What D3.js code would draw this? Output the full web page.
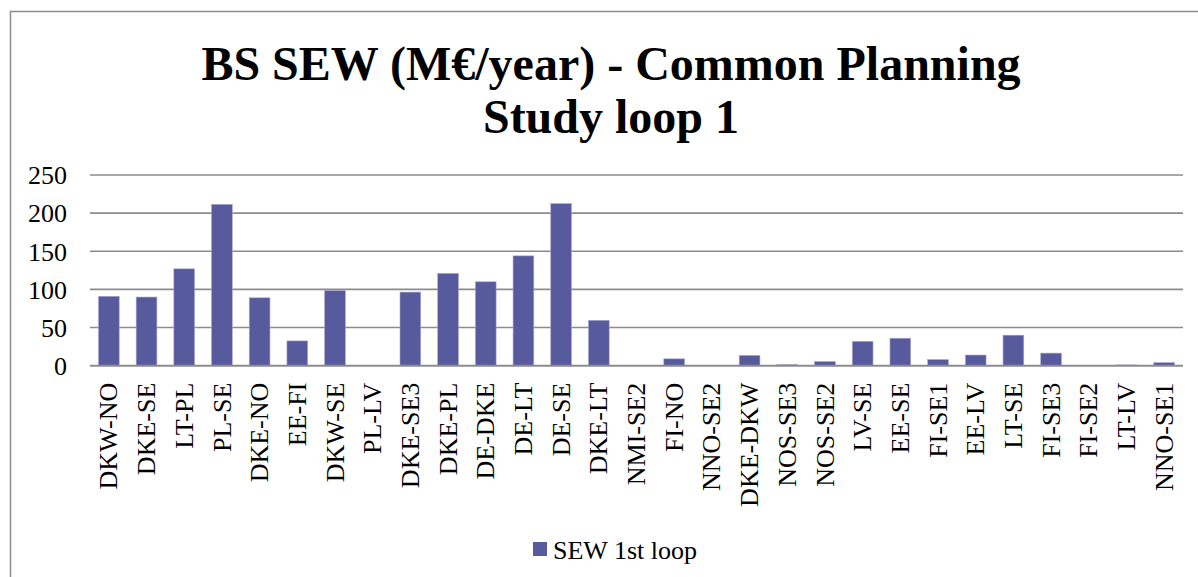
<!DOCTYPE html>
<html>
<head>
<meta charset="utf-8">
<script src="https://cdn.jsdelivr.net/npm/d3@7"></script>
<style>
  html, body { margin: 0; padding: 0; background: #fff; }
  svg { display: block; }
  text { font-family: "Liberation Serif", "Times New Roman", serif; fill: #000; }
</style>
</head>
<body>
<svg id="chart" width="1198" height="577"></svg>
<script>
// Interconnectors (x categories)
const categories = [
  "DKW-NO", "DKE-SE", "LT-PL", "PL-SE", "DKE-NO", "EE-FI", "DKW-SE", "PL-LV",
  "DKE-SE3", "DKE-PL", "DE-DKE", "DE-LT", "DE-SE", "DKE-LT", "NMI-SE2", "FI-NO",
  "NNO-SE2", "DKE-DKW", "NOS-SE3", "NOS-SE2", "LV-SE", "EE-SE", "FI-SE1", "EE-LV",
  "LT-SE", "FI-SE3", "FI-SE2", "LT-LV", "NNO-SE1"
];
// Socio-economic welfare, M€/year
const sew1stLoop = [
  91, 90, 127, 211.5, 89, 32.5, 98.5, 0,
  96.5, 121, 110, 144, 212.5, 59.5, 0, 9,
  0, 13.5, 1.5, 5.5, 32, 36, 8, 14,
  40, 16.5, 0, 1, 4
];
const yTicks = [0, 50, 100, 150, 200, 250];
const seriesName = "SEW 1st loop";
const titleLines = ["BS SEW (M\u20AC/year) - Common Planning", "Study loop 1"];

const svg = d3.select("#chart");
const W = 1198, H = 577;
const barColor = "#585a9e";
const gridColor = "#8c8c8c";

// Outer chart frame
svg.append("rect")
  .attr("x", 10.5).attr("y", 11.5)
  .attr("width", 1210).attr("height", 600)
  .attr("fill", "none").attr("stroke", gridColor).attr("stroke-width", 1.5);

// Title
const title = svg.append("text")
  .attr("text-anchor", "middle")
  .style("font-size", "48px").style("font-weight", "bold");
titleLines.forEach((t, i) => {
  title.append("tspan").attr("x", 611).attr("y", 80 + i * 53).text(t);
});

const plot = { left: 90, right: 1183, top: 175, bottom: 365.7 };

const x = d3.scaleBand()
  .domain(categories)
  .range([plot.left, plot.right])
  .paddingInner(0.45).paddingOuter(0.225);

const y = d3.scaleLinear()
  .domain([0, 250])
  .range([plot.bottom, plot.top]);

// Horizontal gridlines
svg.append("g")
  .selectAll("line")
  .data(yTicks)
  .join("line")
  .attr("x1", plot.left).attr("x2", plot.right)
  .attr("y1", d => y(d)).attr("y2", d => y(d))
  .attr("stroke", gridColor).attr("stroke-width", 1.6);

// Y axis labels
const yAxis = d3.axisLeft(y).tickValues(yTicks).tickSize(0).tickPadding(0);
const yG = svg.append("g")
  .attr("transform", `translate(${plot.left - 23},0)`)
  .call(yAxis);
yG.select(".domain").remove();
yG.selectAll("text")
  .style("font-size", "26px")
  .style("font-family", "'Liberation Serif', 'Times New Roman', serif")
  .attr("fill", "#000")
  .attr("dy", "0.34em");

// Bars
svg.append("g")
  .selectAll("rect")
  .data(categories.map((c, i) => ({ c, v: sew1stLoop[i] })))
  .join("rect")
  .attr("x", d => x(d.c))
  .attr("width", x.bandwidth())
  .attr("y", d => y(d.v))
  .attr("height", d => y(0) - y(d.v))
  .attr("fill", barColor)
  .attr("stroke", "#a7a8d0").attr("stroke-width", 0.6);

// Baseline on top of bars
svg.append("line")
  .attr("x1", plot.left).attr("x2", plot.right)
  .attr("y1", y(0)).attr("y2", y(0))
  .attr("stroke", gridColor).attr("stroke-width", 1.8);

// X axis category labels (vertical)
const xAxis = d3.axisBottom(x).tickSize(0).tickPadding(0);
const xG = svg.append("g")
  .attr("transform", `translate(0,${plot.bottom})`)
  .call(xAxis);
xG.select(".domain").remove();
xG.selectAll("text")
  .style("font-size", "26px")
  .style("font-family", "'Liberation Serif', 'Times New Roman', serif")
  .attr("fill", "#000")
  .attr("text-anchor", "end")
  .attr("transform", "translate(0,17) rotate(-90)")
  .attr("x", 0).attr("y", 0)
  .attr("dy", "0.33em");

// Legend
const lg = svg.append("g").attr("transform", "translate(533,542)");
lg.append("rect").attr("width", 14).attr("height", 14).attr("fill", barColor);
lg.append("text").attr("x", 20).attr("y", 16.5)
  .style("font-size", "26px").text(seriesName);
</script>
</body>
</html>
